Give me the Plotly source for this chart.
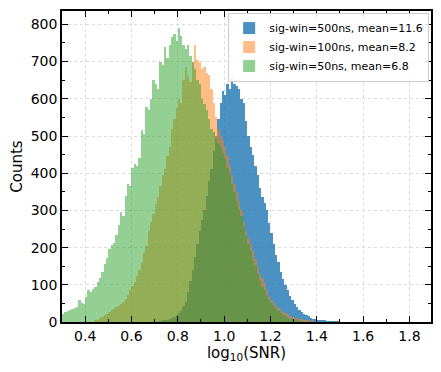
import numpy as np
import plotly.graph_objects as go

BIN_WIDTH = 0.01

# sig-win=50ns, first bin starts at 0.30
green_start = 0.30
green_counts = [
    22, 28, 30, 33, 35, 38, 40, 58, 50, 48,
    68, 85, 82, 88, 95, 108, 118, 135, 155, 172,
    195, 208, 212, 235, 262, 295, 285, 340, 370, 365,
    415, 425, 420, 440, 515, 505, 578, 570, 600, 650,
    640, 625, 700, 690, 740, 710, 745, 765, 775, 755,
    790, 770, 745, 735, 745, 715, 700, 680, 650, 640,
    600, 585, 570, 545, 520, 510, 495, 480, 470, 455,
    440, 415, 395, 370, 350, 325, 300, 285, 255, 230,
    210, 190, 165, 150, 130, 110, 95, 85, 70, 60,
    50, 42, 36, 30, 24, 20, 16, 12, 9, 7,
    5, 3, 2, 1,
]

# sig-win=100ns, first bin starts at 0.44
orange_start = 0.44
orange_counts = [
    3, 6, 10, 14, 18, 22, 28, 32, 36, 40,
    44, 48, 55, 62, 72, 85, 98, 108, 125, 140,
    158, 185, 205, 245, 270, 290, 318, 335, 365, 395,
    410, 445, 470, 520, 545, 575, 600, 590, 650, 685,
    660, 645, 700, 745, 705, 700, 680, 685, 670, 665,
    625, 590, 550, 520, 500, 490, 470, 445, 420, 395,
    370, 350, 325, 300, 270, 245, 225, 210, 190, 170,
    150, 130, 118, 105, 85, 70, 58, 50, 43, 38,
    33, 28, 24, 21, 17, 14, 12, 10, 9, 8,
    6, 4, 3, 2, 1,
]

# sig-win=500ns, first bin starts at 0.72
blue_start = 0.72
blue_counts = [
    2, 3, 4, 6, 8, 10, 13, 18, 24, 30,
    42, 55, 80, 110, 140, 175, 210, 245, 275, 300,
    340, 380, 410, 460, 500, 545, 590, 620, 610, 640,
    625, 655, 640, 635, 625, 600, 590, 540, 500, 470,
    450, 420, 395, 360, 335, 320, 300, 265, 240, 210,
    180, 160, 135, 115, 100, 85, 70, 60, 48, 40,
    33, 28, 22, 18, 15, 12, 9, 7, 5, 4,
    3, 3, 2, 2, 1, 1, 1, 1,
]

series = [
    ("sig-win=500ns, mean=11.6", blue_start, blue_counts, "#1f77b4", 0.8),
    ("sig-win=100ns, mean=8.2", orange_start, orange_counts, "#ff7f0e", 0.5),
    ("sig-win=50ns, mean=6.8", green_start, green_counts, "#2ca02c", 0.5),
]

FONT = "DejaVu Sans"

fig = go.Figure()
for name, start, counts, color, alpha in series:
    centers = np.round(start + BIN_WIDTH * (np.arange(len(counts)) + 0.5), 4)
    fig.add_trace(
        go.Bar(
            x=centers,
            y=counts,
            width=BIN_WIDTH,
            name=name,
            marker=dict(color=color, line=dict(width=0)),
            opacity=alpha,
        )
    )

axis_style = dict(
    showline=True,
    linecolor="black",
    linewidth=1.5,
    mirror="allticks",
    ticks="inside",
    ticklen=6,
    tickwidth=1.3,
    tickcolor="black",
    showgrid=True,
    gridcolor="#dcdcdc",
    griddash="dot",
    gridwidth=0.8,
    zeroline=False,
    automargin=False,
    tickfont=dict(family=FONT, size=14, color="black"),
)

fig.update_xaxes(
    **axis_style,
    range=[0.3, 1.893],
    tick0=0.4,
    dtick=0.2,
    tickformat=".1f",
    minor=dict(ticks="inside", ticklen=3, tickcolor="black", dtick=0.1, showgrid=False),
    title=dict(text="log<sub>10</sub>(SNR)", font=dict(family=FONT, size=15, color="black"), standoff=4),
)
fig.update_yaxes(
    **axis_style,
    range=[0, 836],
    dtick=100,
    minor=dict(ticks="inside", ticklen=3, tickcolor="black", dtick=50, showgrid=False),
    title=dict(text="Counts", font=dict(family=FONT, size=15, color="black"), standoff=6),
)

# page body has an 8px margin, so the figure is shrunk to fit the window
fig.update_layout(
    width=433,
    height=364,
    margin=dict(l=54, r=10, t=3, b=50),
    barmode="overlay",
    bargap=0,
    plot_bgcolor="white",
    paper_bgcolor="white",
    font=dict(family=FONT, size=12, color="black"),
    legend=dict(
        x=0.995,
        y=0.995,
        xanchor="right",
        yanchor="top",
        bgcolor="rgba(255,255,255,0.85)",
        bordercolor="#cccccc",
        borderwidth=1,
        font=dict(family=FONT, size=11, color="black"),
        tracegroupgap=0,
        itemwidth=30,
    ),
)

fig.write_html("out.html")
